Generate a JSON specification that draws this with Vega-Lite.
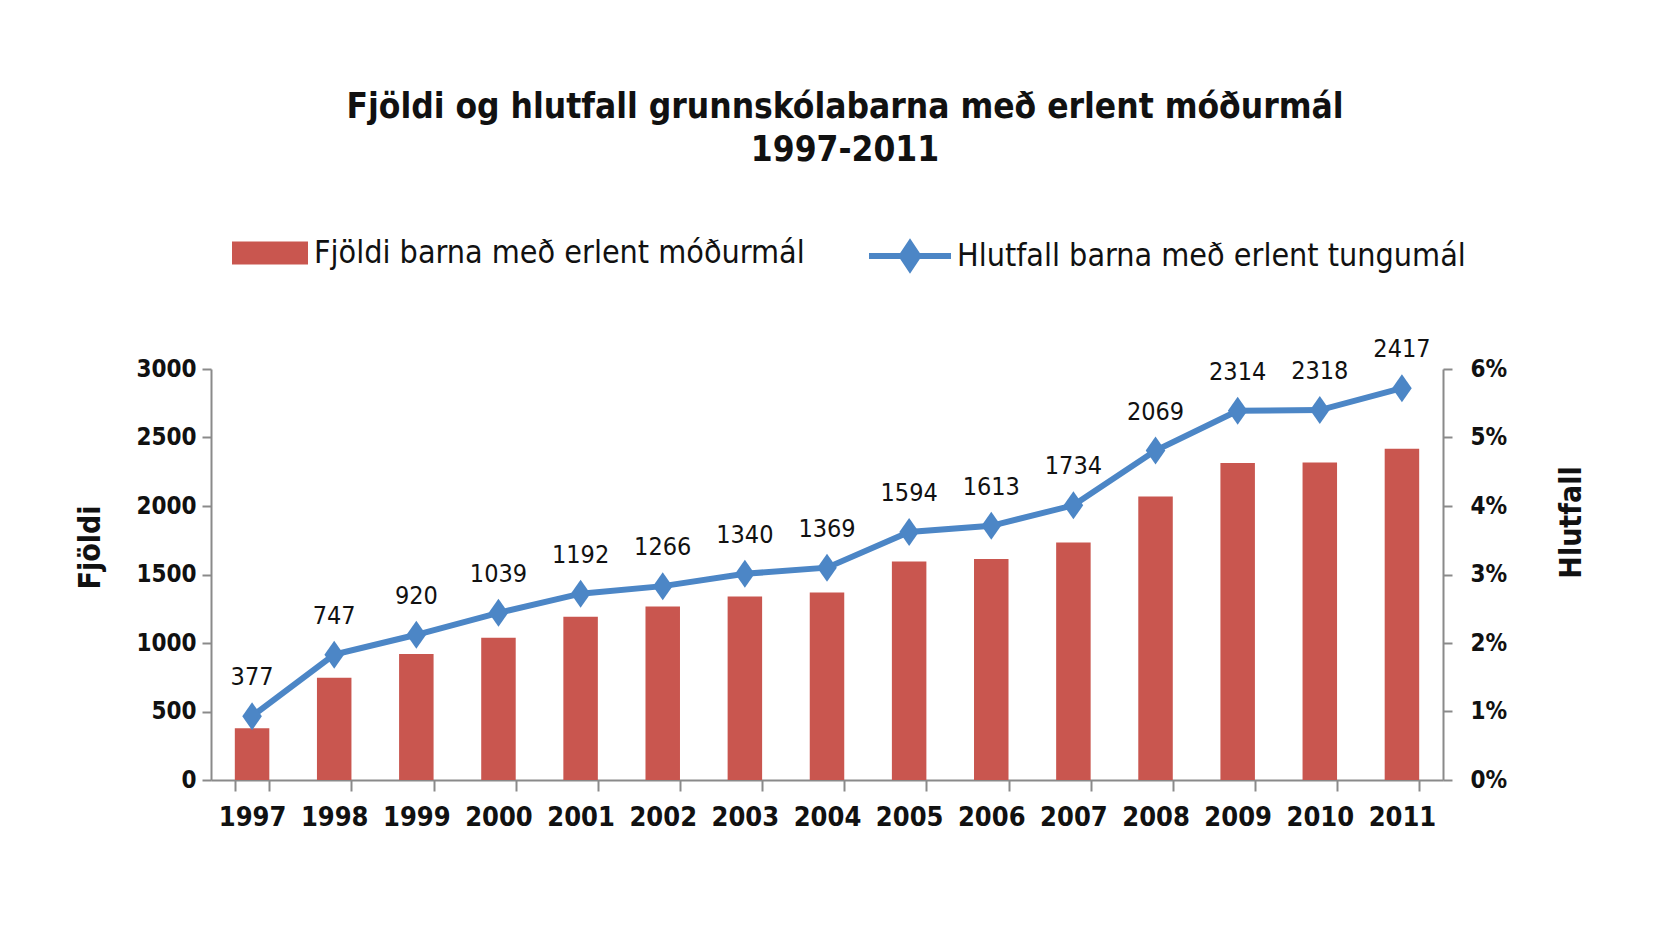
{
  "$schema": "https://vega.github.io/schema/vega-lite/v6.json",
  "width": 1232,
  "height": 411,
  "autosize": {"type": "none"},
  "padding": {"left": 211, "top": 369, "right": 212, "bottom": 147},
  "background": "white",
  "config": {"view": {"stroke": null}, "font": "DejaVu Sans Condensed"},
  "title": {
    "text": ["Fjöldi og hlutfall grunnskólabarna með erlent móðurmál", "1997-2011"],
    "fontSize": 35,
    "fontWeight": "bold",
    "font": "DejaVu Sans Condensed",
    "color": "#111111",
    "anchor": "middle",
    "frame": "group",
    "offset": 44,
    "lineHeight": 43,
    "dx": 18
  },
  "data": {
    "values": [
      {"year": "1997", "count": 377, "pct": 0.0093},
      {"year": "1998", "count": 747, "pct": 0.0183},
      {"year": "1999", "count": 920, "pct": 0.0212},
      {"year": "2000", "count": 1039, "pct": 0.0244},
      {"year": "2001", "count": 1192, "pct": 0.0272},
      {"year": "2002", "count": 1266, "pct": 0.0283},
      {"year": "2003", "count": 1340, "pct": 0.0301},
      {"year": "2004", "count": 1369, "pct": 0.0310},
      {"year": "2005", "count": 1594, "pct": 0.0362},
      {"year": "2006", "count": 1613, "pct": 0.0371},
      {"year": "2007", "count": 1734, "pct": 0.0401},
      {"year": "2008", "count": 2069, "pct": 0.0481},
      {"year": "2009", "count": 2314, "pct": 0.0539},
      {"year": "2010", "count": 2318, "pct": 0.0540},
      {"year": "2011", "count": 2417, "pct": 0.0572}
    ]
  },
  "encoding": {
    "x": {
      "field": "year",
      "type": "ordinal",
      "scale": {"paddingInner": 0.58, "paddingOuter": 0.29},
      "axis": {
        "title": null,
        "labelAngle": 0,
        "labelFontSize": 27,
        "labelFontWeight": "bold",
        "labelColor": "#111111",
        "labelPadding": 13,
        "domainColor": "#8a8a8a",
        "domainWidth": 2,
        "tickColor": "#8a8a8a",
        "tickWidth": 2,
        "tickSize": 11,
        "tickBand": "extent",
        "grid": false
      }
    }
  },
  "layer": [
    {
      "mark": {"type": "bar", "color": "#C9564F"},
      "encoding": {
        "y": {
          "field": "count",
          "type": "quantitative",
          "scale": {"domain": [0, 3000], "nice": false},
          "axis": {
            "title": "Fjöldi",
            "titleFontSize": 30,
            "titleFontWeight": "bold",
            "titleColor": "#111111",
            "titlePadding": 30,
            "titleY": 178,
            "values": [0, 500, 1000, 1500, 2000, 2500, 3000],
            "format": "d",
            "labelFontSize": 24,
            "labelFontWeight": "bold",
            "labelColor": "#111111",
            "labelPadding": 6,
            "domainColor": "#8a8a8a",
            "domainWidth": 2,
            "tickColor": "#8a8a8a",
            "tickWidth": 2,
            "tickSize": 9,
            "grid": false
          }
        },
        "fill": {
          "datum": "Fjöldi barna með erlent móðurmál",
          "scale": {"range": ["#C9564F"]},
          "legend": {
            "orient": "none",
            "legendX": 21,
            "legendY": -154,
            "title": null,
            "symbolType": "M -1 -0.3 L 1 -0.3 L 1 0.3 L -1 0.3 Z",
            "symbolSize": 5776,
            "symbolStrokeWidth": 0,
            "labelFontSize": 32,
            "labelLimit": 0,
            "labelColor": "#111111",
            "labelOffset": 6,
            "padding": 0
          }
        }
      }
    },
    {
      "encoding": {
        "y": {
          "field": "pct",
          "type": "quantitative",
          "scale": {"domain": [0, 0.06], "nice": false},
          "axis": {
            "orient": "right",
            "title": "Hlutfall",
            "titleAngle": 270,
            "titleFontSize": 30,
            "titleFontWeight": "bold",
            "titleColor": "#111111",
            "titlePadding": 80,
            "titleY": 153,
            "values": [0, 0.01, 0.02, 0.03, 0.04, 0.05, 0.06],
            "format": ".0%",
            "labelFontSize": 24,
            "labelFontWeight": "bold",
            "labelColor": "#111111",
            "labelPadding": 18,
            "domainColor": "#8a8a8a",
            "domainWidth": 2,
            "tickColor": "#8a8a8a",
            "tickWidth": 2,
            "tickSize": 9,
            "grid": false
          }
        }
      },
      "layer": [
        {
          "mark": {"type": "line", "strokeWidth": 6, "color": "#4C86C6"},
          "encoding": {
            "stroke": {
              "datum": "Hlutfall barna með erlent tungumál",
              "scale": {"range": ["#4C86C6"]},
              "legend": {
                "orient": "none",
                "legendX": 655,
                "legendY": -157,
                "title": null,
                "symbolType": "M -1 0 L 1 0 M 0 -0.3 L 0.2 0 L 0 0.3 L -0.2 0 Z",
                "symbolSize": 6724,
                "symbolStrokeWidth": 6,
                "symbolFillColor": "#4C86C6",
                "labelFontSize": 32,
                "labelLimit": 0,
                "labelColor": "#111111",
                "labelOffset": 3,
                "padding": 0
              }
            }
          }
        },
        {
          "mark": {
            "type": "point",
            "shape": "M 0 -1 L 0.7 0 L 0 1 L -0.7 0 Z",
            "size": 784,
            "filled": true,
            "opacity": 1,
            "color": "#4C86C6"
          },
          "encoding": {}
        },
        {
          "mark": {
            "type": "text",
            "dy": -39,
            "fontSize": 25,
            "color": "#111111",
            "font": "DejaVu Sans Condensed"
          },
          "encoding": {"text": {"field": "count", "type": "quantitative", "format": "d"}}
        }
      ]
    }
  ],
  "resolve": {"scale": {"y": "independent"}}
}
